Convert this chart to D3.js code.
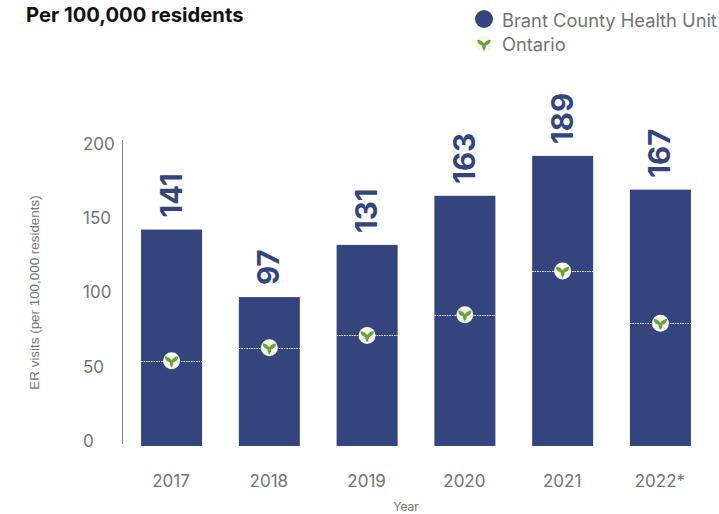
<!DOCTYPE html>
<html>
<head>
<meta charset="utf-8">
<script src="https://d3js.org/d3.v7.min.js"></script>
<style>
  body { margin: 0; background: #fff; }
  text { font-family: Inter, "Noto Sans", sans-serif; }
</style>
</head>
<body>
<div id="chart"></div>
<script>
var years = ["2017", "2018", "2019", "2020", "2021", "2022*"];
var brantValues = [141, 97, 131, 163, 189, 167];
var ontarioValues = [55.5, 64, 72, 85.5, 114, 80];
var yTicks = [0, 50, 100, 150, 200];

var navy = "#33457c";
var grey = "#737373";
var leafGreen = "#6aa339";
var cream = "#fbf9ee";

var svg = d3.select("#chart")
  .append("svg")
    .attr("width", 719)
    .attr("height", 514);

var x = d3.scaleBand()
  .domain(years)
  .range([122.5, 709.5])
  .paddingInner(0.376)
  .paddingOuter(0.19);

var y = d3.scaleLinear()
  .domain([0, 200])
  .range([446, 139]);

// the tick labels sit on a slightly tighter spacing than the bars
var yLabel = d3.scaleLinear()
  .domain([0, 200])
  .range([441, 144]);

// leaf marker, three petals around the centre
function drawLeaf(g, s) {
  g.append("path")
    .attr("d", "M0,-0.5 C-1.5,-3 -4,-4.5 -7,-4.5 C-7,-1 -4.5,1 -2,1.5 C-2,3.5 -1.5,5.5 0,7 C1.5,5.5 2,3.5 2,1.5 C4.5,1 7,-1 7,-4.5 C4,-4.5 1.5,-3 0,-0.5 Z")
    .attr("transform", "scale(" + s + ")")
    .attr("fill", leafGreen);
}

// title
svg.append("text")
  .attr("x", 26)
  .attr("y", 22)
  .attr("font-size", 20.2)
  .attr("font-weight", 700)
  .attr("fill", "#111")
  .text("Per 100,000 residents");

// legend
svg.append("circle")
  .attr("cx", 484)
  .attr("cy", 19)
  .attr("r", 9)
  .attr("fill", navy);
svg.append("text")
  .attr("x", 502)
  .attr("y", 27)
  .attr("font-size", 18.3)
  .attr("fill", grey)
  .text("Brant County Health Unit");
var legendLeaf = svg.append("g").attr("transform", "translate(484,44)");
legendLeaf.append("circle").attr("r", 8.5).attr("fill", cream);
drawLeaf(legendLeaf, 0.95);
svg.append("text")
  .attr("x", 502)
  .attr("y", 51)
  .attr("font-size", 18.3)
  .attr("fill", grey)
  .text("Ontario");

// y axis
svg.append("line")
  .attr("x1", 122.5)
  .attr("x2", 122.5)
  .attr("y1", 140)
  .attr("y2", 444)
  .attr("stroke", "#808080")
  .attr("stroke-width", 1);
svg.append("g")
  .selectAll("text")
  .data(yTicks)
  .enter()
  .append("text")
    .attr("x", 83)
    .attr("y", function (d) { return yLabel(d); })
    .attr("dy", "0.35em")
    .attr("font-size", 17)
    .attr("fill", grey)
    .text(function (d) { return d; });

svg.append("text")
  .attr("transform", "translate(39,292.5) rotate(-90)")
  .attr("text-anchor", "middle")
  .attr("font-size", 13.4)
  .attr("fill", grey)
  .style("font-family", "'Liberation Sans', sans-serif")
  .text("ER visits (per 100,000 residents)");

// x labels
svg.append("g")
  .selectAll("text")
  .data(years)
  .enter()
  .append("text")
    .attr("x", function (d) { return x(d) + x.bandwidth() / 2 - 0.5; })
    .attr("y", 481)
    .attr("dy", "0.35em")
    .attr("text-anchor", "middle")
    .attr("font-size", 17)
    .attr("fill", grey)
    .text(function (d) { return d; });

svg.append("text")
  .attr("x", 406)
  .attr("y", 511)
  .attr("text-anchor", "middle")
  .attr("font-size", 12)
  .attr("fill", grey)
  .text("Year");

// bars
svg.append("g")
  .selectAll("rect")
  .data(brantValues)
  .enter()
  .append("rect")
    .attr("x", function (d, i) { return x(years[i]); })
    .attr("y", function (d) { return y(d); })
    .attr("width", x.bandwidth())
    .attr("height", function (d) { return y(0) - y(d); })
    .attr("fill", navy);

// value labels, rotated
svg.append("g")
  .selectAll("text")
  .data(brantValues)
  .enter()
  .append("text")
    .attr("transform", function (d, i) {
      return "translate(" + (x(years[i]) + x.bandwidth() / 2 + 10) + "," + (y(d) - 12) + ") rotate(-90)";
    })
    .attr("font-size", 29.5)
    .attr("font-weight", 700)
    .attr("fill", navy)
    .text(function (d) { return d; });

// ontario dotted lines and markers
svg.append("g")
  .selectAll("line")
  .data(ontarioValues)
  .enter()
  .append("line")
    .attr("x1", function (d, i) { return x(years[i]); })
    .attr("x2", function (d, i) { return x(years[i]) + x.bandwidth(); })
    .attr("y1", function (d) { return Math.round(y(d)) + 0.5; })
    .attr("y2", function (d) { return Math.round(y(d)) + 0.5; })
    .attr("stroke", "#fff")
    .attr("stroke-width", 1)
    .attr("stroke-dasharray", "1.5 1");

ontarioValues.forEach(function (d, i) {
  var g = svg.append("g")
    .attr("transform", "translate(" + (x(years[i]) + x.bandwidth() / 2) + "," + y(d) + ")");
  g.append("circle").attr("r", 8.5).attr("fill", cream);
  drawLeaf(g, 0.95);
});
</script>
</body>
</html>
